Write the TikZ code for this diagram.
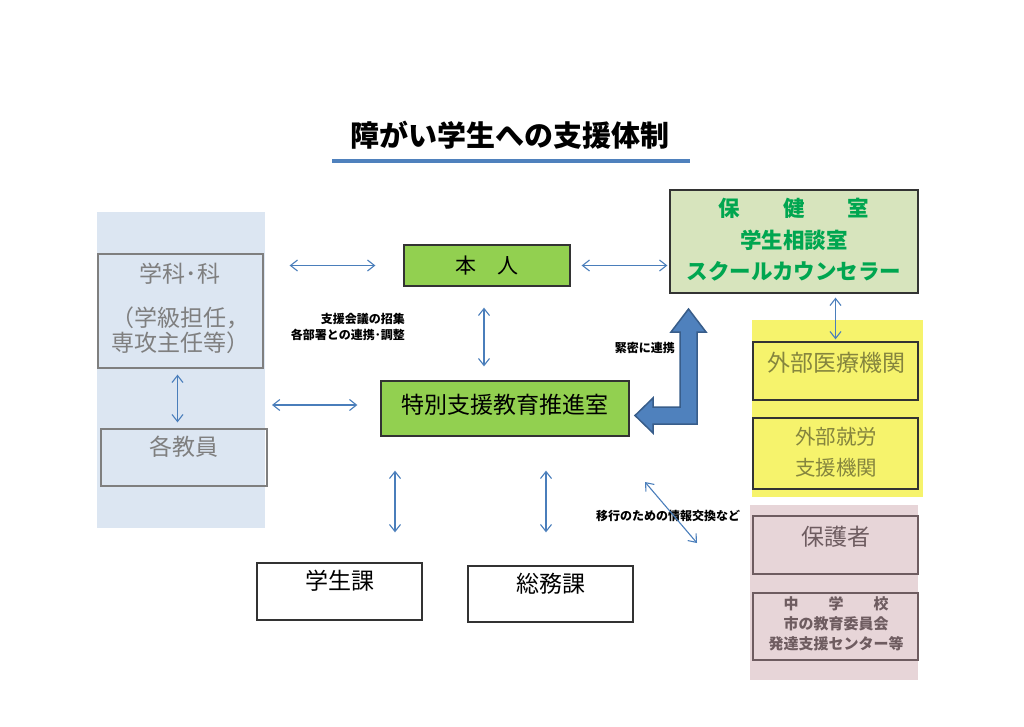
\documentclass[tikz,border=0pt]{standalone}
\usepackage{fontspec}
\newfontfamily\jp{Noto Sans CJK JP}
\usetikzlibrary{arrows.meta, positioning}

\definecolor{lineblue}{HTML}{4A7EBB}
\definecolor{bigblue}{HTML}{4F81BD}
\definecolor{bigedge}{HTML}{385D8A}
\definecolor{panelblue}{HTML}{DCE6F2}
\definecolor{panelyellow}{HTML}{F6F36C}
\definecolor{panelpink}{HTML}{E7D5D8}
\definecolor{boxgreen}{HTML}{92D050}
\definecolor{hokenfill}{HTML}{D7E4BD}
\definecolor{hokentext}{HTML}{00A650}
\definecolor{greytext}{HTML}{7F7F7F}
\definecolor{olivetext}{HTML}{85853E}
\definecolor{pinktext}{HTML}{6E5C60}

\tikzset{
  box/.style={draw=black!80, line width=1.3pt, inner sep=0pt},
  greybox/.style={draw=greytext, line width=1.3pt, inner sep=0pt},
  conn/.style={<->, lineblue, line width=1.1pt},
  bigtext/.style={font=\jp\fontsize{23pt}{28pt}\selectfont, inner sep=0pt},
  smalllabel/.style={font=\jp\bfseries\fontsize{12pt}{16pt}\selectfont, inner sep=0pt},
}

\begin{document}
\begin{tikzpicture}[x=1pt, y=-1pt, >={Straight Barb[length=7pt,width=11pt]}, font=\jp]
  \useasboundingbox (0,0) rectangle (1024,726);

  % Title
  \node[font=\jp\bfseries\fontsize{29pt}{34pt}\selectfont, inner sep=0pt] (title) at (510,135) {障がい学生への支援体制};
  \draw[bigblue, line width=3.5pt] (332,161) -- (690,161);

  % Background panels
  \fill[panelblue]   (97,212)  rectangle (265,528);
  \fill[panelyellow] (752,320) rectangle (923,497);
  \fill[panelpink]   (750,505) rectangle (918,680);
  \coordinate (bluepanel) at (265,405);

  % Left side: department and teachers
  \node[greybox, minimum width=165, minimum height=114] (gakka) at (180.5,311) {};
  \node[text=greytext, align=center, inner sep=0pt, font=\jp\fontsize{23pt}{25pt}\selectfont] (gakkaT) at (180,308) {学科･科\\[19pt]（学級担任，\\専攻主任等）};
  \node[greybox, minimum width=166, minimum height=57] (kyoin) at (184,457.5) {};
  \node[bigtext, text=greytext] (kyoinT) at (184,447) {各教員};

  % Centre: student and support office
  \node[box, fill=boxgreen, minimum width=166, minimum height=41, font=\jp\fontsize{21pt}{25pt}\selectfont] (honin) at (487,265.5) {本　人};
  \node[box, fill=boxgreen, minimum width=248, minimum height=55] (suishin) at (505,408.5) {};
  \node[bigtext] (suishinT) at (505,405) {特別支援教育推進室};

  % Health room
  \node[box, fill=hokenfill, minimum width=248, minimum height=103] (hoken) at (794,241.5) {};
  \node[text=hokentext, align=center, inner sep=0pt, font=\jp\bfseries\fontsize{21.5pt}{31.5pt}\selectfont] (hokenT) at (794,240) {保　　健　　室\\学生相談室\\スクールカウンセラー};

  % External bodies (yellow)
  \node[box, minimum width=165, minimum height=58] (iryo) at (835.5,371) {};
  \node[bigtext, text=olivetext] (iryoT) at (836,363) {外部医療機関};
  \node[box, minimum width=165, minimum height=71] (shuro) at (835.5,453.5) {};
  \node[text=olivetext, align=center, inner sep=0pt, font=\jp\fontsize{20.5pt}{31pt}\selectfont] (shuroT) at (836,452.5) {外部就労\\支援機関};

  % Guardians and schools (pink)
  \node[draw=pinktext, line width=1.3pt, minimum width=165, minimum height=58] (hogo) at (835.5,545) {};
  \node[bigtext, text=pinktext] (hogoT) at (836,537) {保護者};
  \node[draw=pinktext, line width=1.3pt, minimum width=165, minimum height=67] (chugaku) at (835.5,626.5) {};
  \node[text=pinktext, align=center, inner sep=0pt, font=\jp\bfseries\fontsize{15pt}{20pt}\selectfont] (chugakuT) at (836,624) {中　　学　　校\\市の教育委員会\\発達支援センター等};

  % Bottom offices
  \node[box, minimum width=165, minimum height=57] (gakusei) at (339.5,591.5) {};
  \node[bigtext] (gakuseiT) at (339.5,581) {学生課};
  \node[box, minimum width=165, minimum height=56] (somu) at (550.5,594) {};
  \node[bigtext] (somuT) at (550.5,584) {総務課};

  % Labels
  \node[smalllabel, align=right, anchor=east] (kaigi) at (405,327) {支援会議の招集\\各部署との連携･調整};
  \node[smalllabel, anchor=east] (kinmitsu) at (675,348) {緊密に連携};
  \node[smalllabel] (iko) at (668,516) {移行のための情報交換など};

  % Thin connectors
  \draw[conn, shorten <=26pt, shorten >=28pt] (gakka.east |- honin.west) -- (honin.west);
  \draw[conn, shorten <=11pt, shorten >=2pt] (honin.east) -- (hoken.west |- honin.east);
  \draw[conn, shorten <=7pt, shorten >=23pt] (bluepanel) -- (suishin.west |- bluepanel);
  \draw[conn, shorten <=6pt, shorten >=6pt] ([xshift=-3pt]gakka.south) -- ([xshift=-3pt]gakka.south |- kyoin.north);
  \draw[conn, shorten <=21pt, shorten >=14pt] ([xshift=-3pt]honin.south) -- ([xshift=-3pt]honin.south |- suishin.north);
  \draw[conn, shorten <=4pt, shorten >=2pt] (iryo.north |- hoken.south) -- (iryo.north);
  \draw[conn, shorten <=34pt, shorten >=30pt] ([xshift=-110pt]suishin.south) -- ([xshift=55.5pt]gakusei.north);
  \draw[conn, shorten <=34pt, shorten >=33pt] ([xshift=41pt]suishin.south) -- ([xshift=-4.5pt]somu.north);
  \coordinate (ikoend) at (697,543);
  \draw[conn] (645,482) -- (ikoend);

  % Big L-shaped arrow
  \draw[fill=bigblue, draw=bigedge, line width=1.5pt, line join=miter]
    (688.5,309) -- (706,332) -- (697,332) -- (697,424) -- (653,424) -- (653,433)
    -- (635,415.5) -- (653,398) -- (653,407) -- (680,407) -- (680,332) -- (671,332) -- cycle;
\end{tikzpicture}
\end{document}
